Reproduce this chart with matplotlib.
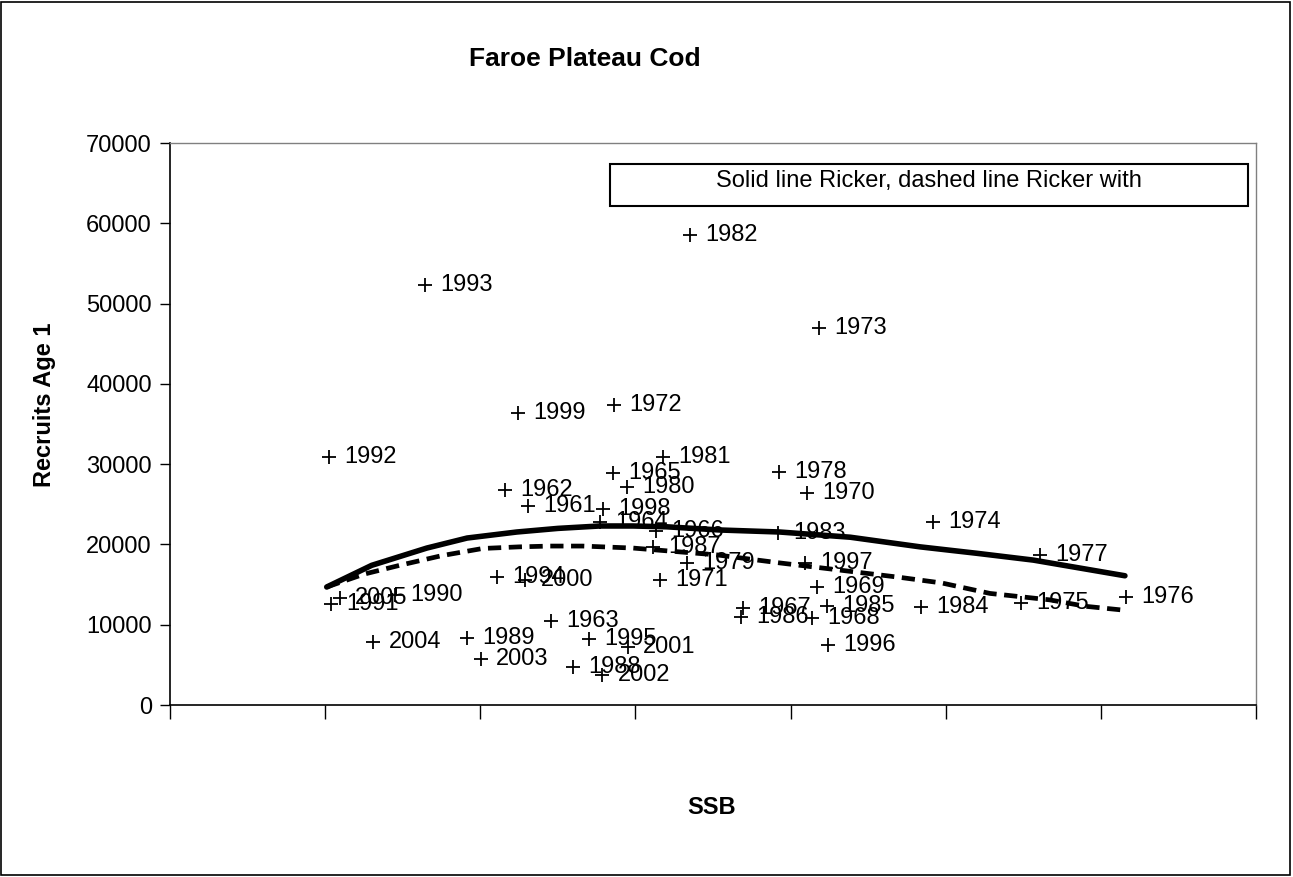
import matplotlib
matplotlib.use("Agg")
import matplotlib.pyplot as plt
from matplotlib.patches import Rectangle

plt.rcParams['font.family'] = ['Liberation Sans', 'DejaVu Sans']

years = list(range(1961, 2006))
ssb = [46200, 43200, 49100, 55400, 57100, 62700, 73900, 82800, 83400, 82100,
       63200, 57200, 83700, 98400, 109700, 123200, 112200, 78500, 66700, 58900,
       63600, 67000, 78400, 96800, 84700, 73600, 62300, 52000, 38300, 29000,
       20800, 20500, 32900, 42200, 54000, 84800, 81900, 55800, 44900, 45800,
       59000, 55700, 40100, 26200, 21900]
recruits = [24800, 26800, 10500, 22800, 28900, 21700, 12100, 10800, 14700, 26400,
            15600, 37400, 47000, 22800, 12700, 13500, 18700, 29000, 17700, 27200,
            30900, 58500, 21400, 12200, 12300, 11000, 19700, 4700, 8300, 13700,
            12600, 30900, 52300, 15900, 8200, 7500, 17700, 24400, 36400, 15600,
            7200, 3700, 5700, 7800, 13300]

# Ricker fit (solid) and Ricker with covariate (dashed)
ricker_ssb = [20200, 26000, 33100, 38300, 44700, 50000, 55400, 59700, 64000,
              70900, 78600, 87700, 96700, 104000, 111300, 123100]
ricker_rec = [14700, 17400, 19550, 20800, 21550, 22000, 22300, 22300, 22200,
              21800, 21550, 20900, 19700, 18900, 18050, 16100]
ricker2_ssb = [20200, 25000, 29600, 35000, 40300, 45000, 49000, 53200, 59700,
               64100, 70500, 78600, 86400, 94100, 99500, 105700, 113400, 118000, 123100]
ricker2_rec = [14700, 16300, 17400, 18600, 19500, 19700, 19800, 19800, 19550,
               19200, 18700, 17700, 16800, 15900, 15200, 13900, 13100, 12300, 11800]

fig = plt.figure(figsize=(12.93, 8.77), dpi=100)
ax = fig.add_axes([0.1315, 0.1961, 0.8399, 0.6408])

ax.plot(ssb, recruits, linestyle='none', marker='+', markersize=10,
        markeredgewidth=1.3, color='black', zorder=2)
for yr, x, y in zip(years, ssb, recruits):
    ax.annotate(str(yr), (x, y), xytext=(11, 0), textcoords='offset points',
                va='center', ha='left', fontsize=17, zorder=2)

ax.plot(ricker_ssb, ricker_rec, color='black', lw=4, zorder=3,
        solid_capstyle='round')
ax.plot(ricker2_ssb, ricker2_rec, color='black', lw=3.4, zorder=3,
        linestyle=(0, (2.8, 1.6)))

ax.set_xlim(0, 140000)
ax.set_ylim(0, 70000)
ax.set_xticks(range(0, 140001, 20000))
ax.set_xticklabels([])
ax.set_yticks(range(0, 70001, 10000))
ax.tick_params(axis='y', labelsize=17, length=7, width=1, pad=6)
ax.tick_params(axis='x', length=10, width=1)
for s in ['top', 'right']:
    ax.spines[s].set_color('#808080')
    ax.spines[s].set_linewidth(1)
for s in ['left', 'bottom']:
    ax.spines[s].set_color('black')
    ax.spines[s].set_linewidth(1.2)

# legend text box
ax.add_patch(Rectangle((0.405, 0.888), 0.5876, 0.0748, transform=ax.transAxes,
                       facecolor='white', edgecolor='black', lw=1.5, zorder=4))
ax.text(0.699, 0.932, "Solid line Ricker, dashed line Ricker with",
        transform=ax.transAxes, ha='center', va='center', fontsize=17, zorder=5)

fig.text(0.452, 0.933, "Faroe Plateau Cod", ha='center', va='center',
         fontsize=19, fontweight='bold')
fig.text(0.5507, 0.0787, "SSB", ha='center', va='center',
         fontsize=17, fontweight='bold')
fig.text(0.0348, 0.538, "Recruits Age 1", ha='center', va='center',
         rotation=90, fontsize=17, fontweight='bold')

fig.add_artist(Rectangle((0.001, 0.002), 0.997, 0.996, transform=fig.transFigure,
                         fill=False, edgecolor='black', lw=1.2))

fig.savefig("out.png", dpi=100)
